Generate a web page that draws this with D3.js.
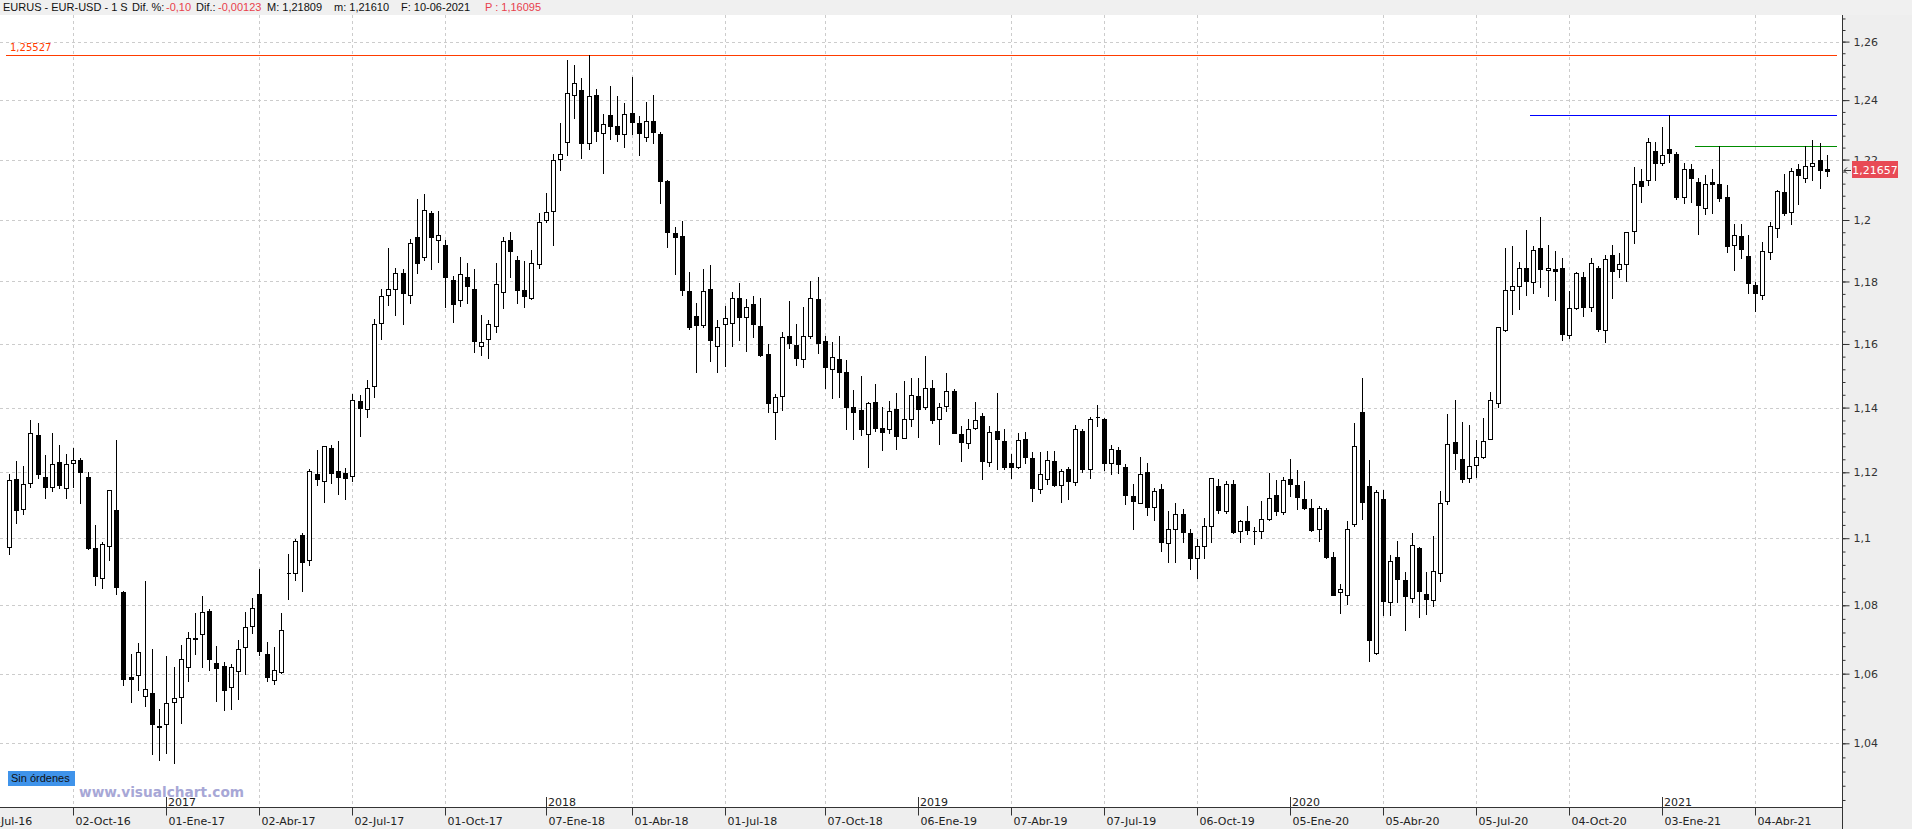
<!DOCTYPE html>
<html><head><meta charset="utf-8">
<script src="https://cdn.jsdelivr.net/npm/d3@7"></script>
<style>body{margin:0;background:#fff;overflow:hidden}svg{display:block}</style>
</head><body>
<svg id="c" width="1912" height="829"></svg>
<script>
// ---- DATA (weekly EUR-USD candles) ----
const opens = [1.0973,1.1179,1.1088,1.1167,1.1316,1.1186,1.1155,1.1233,1.1152,1.1227,
1.1239,1.1185,1.0971,1.0880,1.0978,1.1086,1.0840,1.0590,1.0597,1.0534,
1.0545,1.0448,1.0454,1.0519,1.0533,1.0620,1.0705,1.0716,1.0784,1.0630,
1.0621,1.0561,1.0609,1.0678,1.0740,1.0834,1.0658,1.0582,1.0606,1.0896,
1.0896,1.1011,1.0934,1.1195,1.1172,1.1276,1.1205,1.1198,1.1190,1.1419,
1.1397,1.1467,1.1668,1.1755,1.1777,1.1826,1.1758,1.1945,1.1880,1.2023,
1.1936,1.1918,1.1806,1.1739,1.1814,1.1775,1.1595,1.1616,1.1657,1.1765,
1.1935,1.1871,1.1771,1.1747,1.1858,1.2000,1.2030,1.2203,1.2260,1.2418,
1.2435,1.2254,1.2418,1.2288,1.2350,1.2312,1.2284,1.2358,1.2322,1.2277,
1.2328,1.2285,1.2129,1.1959,1.1948,1.1768,1.1690,1.1660,1.1775,1.1594,
1.1665,1.1668,1.1748,1.1687,1.1726,1.1658,1.1568,1.1386,1.1435,1.1626,
1.1597,1.1552,1.1626,1.1745,1.1610,1.1522,1.1552,1.1511,1.1403,1.1391,
1.1317,1.1416,1.1336,1.1332,1.1397,1.1306,1.1366,1.1436,1.1403,1.1462,
1.1363,1.1406,1.1452,1.1317,1.1289,1.1335,1.1375,1.1233,1.1327,1.1296,
1.1228,1.1215,1.1303,1.1244,1.1150,1.1180,1.1234,1.1161,1.1210,1.1170,
1.1327,1.1210,1.1370,1.1363,1.1228,1.1269,1.1215,1.1128,1.1107,1.1200,
1.1094,1.1148,1.0985,1.1027,1.1073,1.1015,1.0940,1.0976,1.1036,1.1158,
1.1081,1.1164,1.1021,1.1052,1.1021,1.1021,1.1058,1.1130,1.1078,1.1180,
1.1161,1.1118,1.1091,1.1029,1.1085,1.0943,1.0838,1.0830,1.1043,1.1385,
1.1159,1.0659,1.1118,1.0809,1.0943,1.0875,1.0821,1.0970,1.0834,1.0815,
1.0896,1.1111,1.1292,1.1240,1.1182,1.1222,1.1246,1.1303,1.1415,1.1645,
1.1774,1.1787,1.1842,1.1797,1.1908,1.1838,1.1840,1.1842,1.1627,1.1714,
1.1816,1.1719,1.1842,1.1645,1.1887,1.1839,1.1858,1.1964,1.2128,1.2133,
1.2227,1.2190,1.2235,1.2217,1.2077,1.2168,1.2127,1.2040,1.2124,1.2120,
1.2077,1.1919,1.1948,1.1884,1.1790,1.1755,1.1897,1.1974,1.2093,1.2026,
1.2167,1.2140,1.2177,1.2197,1.2168];
const highs = [1.1195,1.1234,1.1219,1.1362,1.1353,1.1253,1.1321,1.1283,1.1256,1.1276,
1.1243,1.1200,1.1040,1.0988,1.1146,1.1298,1.0842,1.0657,1.0690,1.0872,
1.0672,1.0497,1.0652,1.0619,1.0684,1.0720,1.0777,1.0828,1.0790,1.0681,
1.0633,1.0627,1.0698,1.0781,1.0821,1.0908,1.0691,1.0677,1.0777,1.0953,
1.0997,1.1016,1.1210,1.1268,1.1282,1.1283,1.1296,1.1213,1.1441,1.1440,
1.1486,1.1681,1.1776,1.1908,1.1845,1.1841,1.1939,1.2069,1.2087,1.2029,
1.2030,1.1936,1.1817,1.1879,1.1861,1.1839,1.1691,1.1677,1.1859,1.1944,
1.1961,1.1882,1.1865,1.1901,1.2023,1.2088,1.2218,1.2321,1.2536,1.2519,
1.2475,1.2553,1.2438,1.2354,1.2448,1.2414,1.2389,1.2479,1.2345,1.2394,
1.2418,1.2291,1.2131,1.1977,1.1998,1.1832,1.1732,1.1840,1.1853,1.1675,
1.1720,1.1765,1.1795,1.1742,1.1752,1.1748,1.1600,1.1442,1.1639,1.1737,
1.1662,1.1719,1.1802,1.1816,1.1626,1.1606,1.1624,1.1549,1.1455,1.1499,
1.1417,1.1474,1.1401,1.1420,1.1444,1.1482,1.1494,1.1493,1.1561,1.1487,
1.1413,1.1509,1.1458,1.1343,1.1366,1.1416,1.1383,1.1343,1.1447,1.1332,
1.1256,1.1321,1.1324,1.1262,1.1263,1.1265,1.1266,1.1211,1.1217,1.1345,
1.1334,1.1372,1.1407,1.1368,1.1284,1.1277,1.1225,1.1164,1.1246,1.1230,
1.1152,1.1164,1.1082,1.1106,1.1089,1.1028,1.0998,1.1062,1.1183,1.1180,
1.1173,1.1177,1.1055,1.1098,1.1034,1.1113,1.1198,1.1177,1.1186,1.1241,
1.1207,1.1174,1.1118,1.1096,1.1091,1.0958,1.0862,1.1052,1.1352,1.1493,
1.1237,1.1146,1.1147,1.0950,1.0992,1.0900,1.1017,1.0974,1.0900,1.1007,
1.1143,1.1380,1.1423,1.1355,1.1346,1.1300,1.1367,1.1448,1.1655,1.1908,
1.1914,1.1862,1.1966,1.1916,1.2011,1.1917,1.1898,1.1875,1.1769,1.1830,
1.1830,1.1877,1.1851,1.1887,1.1919,1.1891,1.1962,1.2174,1.2168,1.2272,
1.2259,1.2310,1.2349,1.2224,1.2187,1.2184,1.2139,1.2148,1.2170,1.2244,
1.2114,1.1988,1.1988,1.1950,1.1797,1.1928,1.1992,1.2098,1.2151,1.2171,
1.2184,1.2244,1.2265,1.2255,1.2215];
const lows = [1.0953,1.1047,1.1072,1.1154,1.1182,1.1123,1.1142,1.1151,1.1123,1.1155,
1.1105,1.0968,1.0859,1.0850,1.0936,1.0833,1.0568,1.0519,1.0554,1.0508,
1.0369,1.0353,1.0373,1.0343,1.0457,1.0579,1.0657,1.0620,1.0610,1.0521,
1.0494,1.0497,1.0526,1.0599,1.0719,1.0653,1.0580,1.0571,1.0603,1.0819,
1.0876,1.0842,1.0921,1.1161,1.1109,1.1167,1.1133,1.1120,1.1172,1.1313,
1.1371,1.1432,1.1615,1.1724,1.1693,1.1664,1.1731,1.1826,1.1870,1.1841,
1.1863,1.1718,1.1669,1.1721,1.1730,1.1575,1.1566,1.1556,1.1639,1.1715,
1.1813,1.1731,1.1718,1.1742,1.1845,1.1994,1.1918,1.2166,1.2216,1.2339,
1.2206,1.2236,1.2261,1.2156,1.2269,1.2263,1.2241,1.2285,1.2216,1.2263,
1.2254,1.2057,1.1913,1.1825,1.1755,1.1648,1.1510,1.1654,1.1545,1.1510,
1.1529,1.1593,1.1612,1.1577,1.1621,1.1563,1.1387,1.1302,1.1394,1.1587,
1.1532,1.1527,1.1618,1.1570,1.1462,1.1431,1.1434,1.1334,1.1302,1.1315,
1.1217,1.1328,1.1267,1.1322,1.1272,1.1305,1.1343,1.1310,1.1397,1.1353,
1.1287,1.1390,1.1320,1.1236,1.1276,1.1334,1.1178,1.1219,1.1209,1.1209,
1.1183,1.1213,1.1228,1.1111,1.1136,1.1165,1.1159,1.1109,1.1118,1.1162,
1.1202,1.1182,1.1344,1.1208,1.1194,1.1199,1.1103,1.1027,1.1105,1.1070,
1.1054,1.0963,1.0928,1.0928,1.0990,1.0907,1.0880,1.0942,1.0990,1.1076,
1.1076,1.1017,1.0990,1.1013,1.0982,1.1002,1.1055,1.1070,1.1073,1.1127,
1.1088,1.1087,1.1021,1.0993,1.0942,1.0829,1.0778,1.0804,1.1038,1.1058,
1.0637,1.0657,1.0772,1.0770,1.0811,1.0728,1.0811,1.0766,1.0775,1.0799,
1.0871,1.1103,1.1211,1.1169,1.1169,1.1187,1.1243,1.1301,1.1402,1.1642,
1.1696,1.1712,1.1757,1.1763,1.1783,1.1754,1.1741,1.1612,1.1618,1.1712,
1.1689,1.1705,1.1641,1.1606,1.1747,1.1815,1.1802,1.1926,1.2060,1.2116,
1.2132,1.2181,1.2192,1.2070,1.2056,1.2058,1.1955,1.2020,1.2022,1.2062,
1.1896,1.1838,1.1876,1.1764,1.1706,1.1743,1.1872,1.1944,1.2016,1.1986,
1.2053,1.2126,1.2131,1.2106,1.2146];
const closes = [1.1176,1.1084,1.1164,1.1321,1.1196,1.1154,1.1224,1.1160,1.1224,1.1239,
1.1202,1.0970,1.0886,1.0982,1.1145,1.0855,1.0585,1.0585,1.0662,1.0557,
1.0454,1.0446,1.0516,1.0531,1.0642,1.0703,1.0702,1.0781,1.0642,1.0615,
1.0554,1.0618,1.0671,1.0735,1.0793,1.0666,1.0590,1.0612,1.0727,1.0897,
1.0993,1.0928,1.1205,1.1179,1.1280,1.1197,1.1187,1.1184,1.1425,1.1399,
1.1460,1.1662,1.1752,1.1775,1.1826,1.1764,1.1926,1.1861,1.2033,1.1944,
1.1951,1.1816,1.1728,1.1823,1.1786,1.1609,1.1605,1.1665,1.1791,1.1932,
1.1899,1.1773,1.1754,1.1861,1.1994,1.2027,1.2200,1.2220,1.2424,1.2458,
1.2254,1.2413,1.2297,1.2319,1.2311,1.2287,1.2352,1.2327,1.2288,1.2328,
1.2291,1.2129,1.1961,1.1945,1.1773,1.1654,1.1660,1.1768,1.1612,1.1655,
1.1684,1.1748,1.1686,1.1718,1.1662,1.1566,1.1413,1.1434,1.1622,1.1603,
1.1556,1.1626,1.1748,1.1603,1.1527,1.1558,1.1513,1.1402,1.1387,1.1334,
1.1415,1.1338,1.1323,1.1388,1.1311,1.1366,1.1440,1.1397,1.1462,1.1362,
1.1403,1.1452,1.1322,1.1294,1.1332,1.1360,1.1236,1.1323,1.1302,1.1217,
1.1215,1.1300,1.1246,1.1152,1.1195,1.1237,1.1161,1.1203,1.1172,1.1332,
1.1211,1.1366,1.1371,1.1228,1.1271,1.1225,1.1131,1.1113,1.1196,1.1095,
1.1142,1.0990,1.1029,1.1073,1.1020,1.0942,1.0976,1.1036,1.1182,1.1084,
1.1164,1.1020,1.1051,1.1024,1.1022,1.1058,1.1121,1.1081,1.1176,1.1163,
1.1124,1.1090,1.1025,1.1091,1.0944,1.0831,1.0847,1.1029,1.1282,1.1109,
1.0699,1.1140,1.0814,1.0932,1.0878,1.0826,1.0979,1.0841,1.0820,1.0902,
1.1106,1.1286,1.1260,1.1179,1.1218,1.1246,1.1297,1.1425,1.1654,1.1771,
1.1787,1.1842,1.1800,1.1901,1.1841,1.1845,1.1834,1.1631,1.1716,1.1826,
1.1718,1.1861,1.1647,1.1874,1.1835,1.1856,1.1961,1.2120,1.2113,1.2258,
1.2187,1.2214,1.2223,1.2077,1.2170,1.2139,1.2049,1.2120,1.2119,1.2073,
1.1915,1.1952,1.1905,1.1796,1.1764,1.1900,1.1981,1.2097,1.2022,1.2163,
1.2149,1.2180,1.2190,1.2166,1.2163];

const priceTicks = [1.04,1.06,1.08,1.10,1.12,1.14,1.16,1.18,1.20,1.22,1.24,1.26];
const dateTickIdx = [-4,9,22,35,48,61,75,87,100,114,127,140,153,166,179,192,205,218,231,244];
const dateTickLabels = ["03-Jul-16","02-Oct-16","01-Ene-17","02-Abr-17","02-Jul-17","01-Oct-17",
  "07-Ene-18","01-Abr-18","01-Jul-18","07-Oct-18","06-Ene-19","07-Abr-19","07-Jul-19","06-Oct-19",
  "05-Ene-20","05-Abr-20","05-Jul-20","04-Oct-20","03-Ene-21","04-Abr-21"];
const yearIdx = [22,75,127,179,231];
const yearLabels = ["2017","2018","2019","2020","2021"];
const levelPrices = [1.25527, 1.2349, 1.2244];
const levelFromIdx = [0, 213, 236];
const lastPrice = 1.21657;
const headerParts = [
  ["EURUS - EUR-USD -  1 S", 0], ["Dif. %:", 0], ["-0,10", 1], ["Dif.:", 0], ["-0,00123", 1],
  ["M: 1,21809", 0], ["m: 1,21610", 0], ["F: 10-06-2021", 0], ["P : 1,16095", 1]];

// ---- STYLE / LAYOUT ----
const W = 1912, H = 829, plotTop = 15, axisY = 807, axisX = 1842;
const levelColors = ["#ff3c00", "#0000ff", "#008c00"];
const headerX = [3, 132, 166, 196, 218, 267, 334, 401, 485];
const FONT = "'DejaVu Sans', Verdana, sans-serif";
const HFONT = "'Liberation Sans', Arial, sans-serif";

const svg = d3.select("#c");
const n = opens.length;
const x = d3.scaleLinear().domain([0, n - 1]).range([8.9, 8.9 + 7.157 * (n - 1)]);
const y = d3.scaleLog().domain([1.04, 1.26]).range([743.3, 41.6]);
const fmt = v => String(+v.toFixed(2)).replace(".", ",");
const fmt5 = v => v.toFixed(5).replace(".", ",");

// backgrounds
svg.append("rect").attr("width", W).attr("height", H).attr("fill", "#fff");
svg.append("rect").attr("x", 0).attr("y", 0).attr("width", W).attr("height", plotTop).attr("fill", "#f0f0f0");
svg.append("rect").attr("x", axisX).attr("y", plotTop).attr("width", W - axisX).attr("height", H - plotTop).attr("fill", "#eeeeee");
svg.append("rect").attr("x", 0).attr("y", axisY).attr("width", axisX).attr("height", H - axisY).attr("fill", "#eeeeee");

// header
const ht = svg.append("text").attr("y", 11).attr("font-family", HFONT).attr("font-size", 11);
headerParts.forEach((p, i) => {
  ht.append("tspan").attr("x", headerX[i]).attr("fill", p[1] ? "#e8404c" : "#111").text(p[0]);
});

const plot = svg.append("g");
// horizontal grid
plot.selectAll("line.hg").data(priceTicks).join("line")
  .attr("x1", 0).attr("x2", axisX).attr("y1", d => Math.round(y(d)) + 0.5).attr("y2", d => Math.round(y(d)) + 0.5)
  .attr("stroke", "#cccccc").attr("stroke-dasharray", "3,3");
// vertical grid (not at year starts)
const vIdx = dateTickIdx.filter(d => !yearIdx.includes(d) && d >= 0);
plot.selectAll("line.vg").data(vIdx).join("line")
  .attr("x1", d => Math.round(x(d)) + 0.5).attr("x2", d => Math.round(x(d)) + 0.5)
  .attr("y1", plotTop).attr("y2", axisY)
  .attr("stroke", "#cccccc").attr("stroke-dasharray", "3,3");

// level lines
levelPrices.forEach((p, i) => {
  plot.append("line").attr("x1", Math.round(x(levelFromIdx[i])) - 3).attr("x2", 1837)
    .attr("y1", Math.round(y(p)) + 0.5).attr("y2", Math.round(y(p)) + 0.5)
    .attr("stroke", levelColors[i]).attr("stroke-width", 1);
});
plot.append("text").attr("x", 10).attr("y", Math.round(y(levelPrices[0])) - 4)
  .attr("font-family", FONT).attr("font-size", 10).attr("fill", levelColors[0]).text(fmt5(levelPrices[0]));

// candles
const data = d3.range(n).map(i => ({ i, o: opens[i], h: highs[i], l: lows[i], c: closes[i] }));
const cg = plot.append("g").attr("shape-rendering", "crispEdges");
cg.selectAll("line.w").data(data).join("line")
  .attr("x1", d => Math.round(x(d.i)) + 0.5).attr("x2", d => Math.round(x(d.i)) + 0.5)
  .attr("y1", d => Math.round(y(d.h))).attr("y2", d => Math.round(y(d.l)) + 1)
  .attr("stroke", "#000").attr("stroke-width", 1);
cg.selectAll("path.b").data(data).join("path")
  .attr("d", d => {
    const cx = Math.round(x(d.i));
    const t = Math.round(y(Math.max(d.o, d.c))) + 0.5, b = Math.round(y(Math.min(d.o, d.c))) + 0.5;
    const x0 = cx - 2 + 0.5, x1 = cx + 2 + 0.5;
    return `M${x0},${t}H${x1}V${b}H${x0}Z`;
  })
  .attr("fill", d => d.c >= d.o ? "#fff" : "#000").attr("stroke", "#000").attr("stroke-width", 1);

// right axis
const minorT = d3.range(256, 318).map(k => +(k * 0.004).toFixed(3)).filter(v => y(v) > plotTop && y(v) < axisY);
svg.append("g").attr("transform", `translate(${axisX + 0.5},0)`)
  .call(d3.axisRight(y).tickValues(minorT).tickSize(3).tickFormat(""))
  .call(g => g.select(".domain").remove())
  .call(g => g.selectAll("line").attr("stroke", "#333"));
svg.append("g").attr("transform", `translate(${axisX + 0.5},0)`)
  .call(d3.axisRight(y).tickValues(priceTicks).tickSize(7).tickPadding(4).tickFormat(fmt))
  .call(g => g.select(".domain").remove())
  .call(g => g.selectAll("line").attr("stroke", "#333"))
  .call(g => g.selectAll("text").attr("font-family", FONT).attr("font-size", 11).attr("fill", "#333"));
svg.append("line").attr("x1", axisX + 0.5).attr("x2", axisX + 0.5).attr("y1", plotTop).attr("y2", H).attr("stroke", "#333");

// last price marker
const ly = Math.round(y(lastPrice));
svg.append("rect").attr("x", 1852).attr("y", ly - 9).attr("width", 46).attr("height", 17).attr("fill", "#e84a55");
svg.append("text").attr("x", 1875).attr("y", ly + 4).attr("text-anchor", "middle").attr("font-family", FONT)
  .attr("font-size", 11).attr("fill", "#fff").text(fmt5(lastPrice));
svg.append("path").attr("d", `M${axisX + 2},${ly + 0.5}H${axisX + 9}M${axisX + 2},${ly + 0.5}l3,-3M${axisX + 2},${ly + 0.5}l3,3`)
  .attr("stroke", "#333").attr("fill", "none");

// bottom axis
const xa = svg.append("g").attr("transform", `translate(0.5,${axisY + 0.5})`)
  .call(d3.axisBottom(x).tickValues(dateTickIdx).tickSize(8).tickPadding(2).tickFormat((d, i) => dateTickLabels[i]));
xa.select(".domain").remove();
xa.selectAll(".tick").attr("transform", d => `translate(${Math.round(x(d))},0)`);
xa.selectAll("line").attr("stroke", "#333");
xa.selectAll("text").attr("text-anchor", "start").attr("x", 2).attr("y", 10)
  .attr("font-family", FONT).attr("font-size", 11).attr("fill", "#222");
svg.append("line").attr("x1", 0).attr("x2", axisX).attr("y1", axisY + 0.5).attr("y2", axisY + 0.5).attr("stroke", "#333");

// year marks
const yg = svg.append("g");
yg.selectAll("line").data(yearIdx).join("line")
  .attr("x1", d => Math.round(x(d)) + 0.5).attr("x2", d => Math.round(x(d)) + 0.5)
  .attr("y1", axisY - 10).attr("y2", axisY).attr("stroke", "#333");
yg.selectAll("text").data(yearIdx).join("text")
  .attr("x", d => Math.round(x(d)) + 2).attr("y", axisY - 1)
  .attr("font-family", FONT).attr("font-size", 11).attr("fill", "#222")
  .text((d, i) => yearLabels[i]);

// watermark + status box
svg.append("rect").attr("x", 8).attr("y", 771).attr("width", 67).attr("height", 15).attr("fill", "#3f93ea");
svg.append("text").attr("x", 11).attr("y", 782).attr("font-family", HFONT)
  .attr("font-size", 11).attr("fill", "#111").text("Sin órdenes");
svg.append("text").attr("x", 79).attr("y", 797).attr("font-family", FONT).attr("font-weight", "bold")
  .attr("font-size", 13.7).attr("fill", "#a7a7d6").text("www.visualchart.com");
</script>
</body></html>
